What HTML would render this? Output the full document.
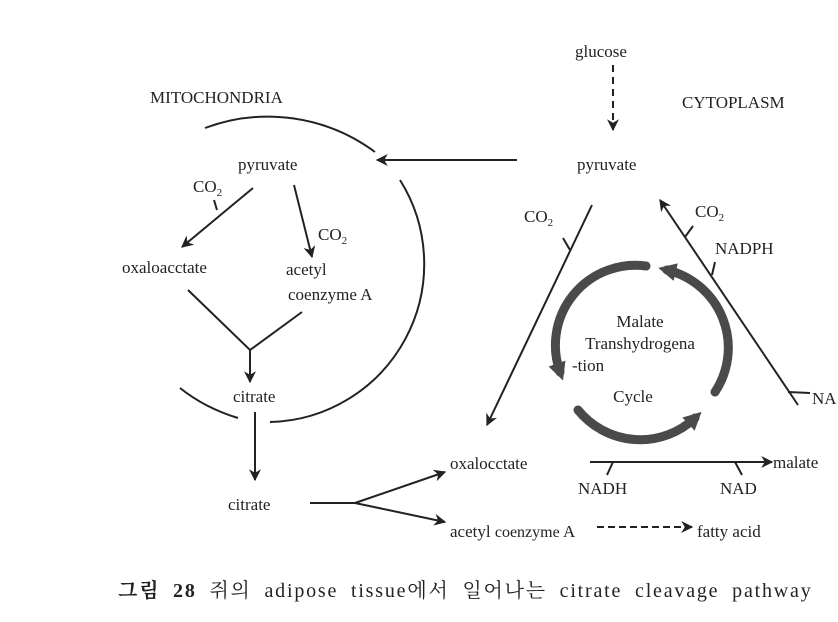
<!DOCTYPE html>
<html><head><meta charset="utf-8"><style>
body{margin:0;background:#fff;}
svg{display:block;font-family:"Liberation Serif","Noto Serif CJK SC",serif;}
text{fill:#222;font-size:17px;}
</style></head><body>
<svg width="838" height="622" viewBox="0 0 838 622" xmlns="http://www.w3.org/2000/svg">
<defs>
<marker id="a" viewBox="0 0 10 10" refX="9" refY="5" markerWidth="12" markerHeight="12" orient="auto-start-reverse" markerUnits="userSpaceOnUse"><path d="M0,0 L10,5 L0,10 L3,5z" fill="#222"/></marker>
<marker id="g" viewBox="0 0 10 10" refX="5" refY="5" markerWidth="18" markerHeight="18" orient="auto" markerUnits="userSpaceOnUse"><path d="M0,0 L10,5 L0,10z" fill="#4a4a4a"/></marker>
</defs>
<g stroke="#222" stroke-width="2" fill="none">
<path d="M205,128 A180,180 0 0 1 375,152"/>
<path d="M400,180 A158,158 0 0 1 270,422"/>
<path d="M180,388 Q205,408 238,418"/>
<path d="M517,160 L377,160" marker-end="url(#a)"/>
<path d="M613,65 L613,130" stroke-dasharray="7,5" marker-end="url(#a)"/>
<path d="M253,188 L182,247" marker-end="url(#a)"/>
<path d="M217,210 L214,200"/>
<path d="M294,185 L312,257" marker-end="url(#a)"/>
<path d="M188,290 L250,350 L302,312"/>
<path d="M250,350 L250,382" marker-end="url(#a)"/>
<path d="M255,412 L255,480" marker-end="url(#a)"/>
<path d="M310,503 L355,503"/>
<path d="M355,503 L445,472" marker-end="url(#a)"/>
<path d="M355,503 L445,522" marker-end="url(#a)"/>
<path d="M597,527 L692,527" stroke-dasharray="7,4" marker-end="url(#a)"/>
<path d="M592,205 L487,425" marker-end="url(#a)"/>
<path d="M570,250 L563,238"/>
<path d="M798,405 L660,200" marker-end="url(#a)"/>
<path d="M685,237 L693,226"/>
<path d="M712,275 L715,262"/>
<path d="M788,392 L810,393"/>
<path d="M590,462 L772,462" marker-end="url(#a)"/>
<path d="M613,462 L607,475"/>
<path d="M735,462 L742,475"/>
</g>
<g stroke="#4a4a4a" stroke-width="9" fill="none" stroke-linecap="round">
<path d="M646,266 A80,80 0 0 0 560,372" marker-end="url(#g)"/>
<path d="M715,392 A80,80 0 0 0 667,270" marker-end="url(#g)"/>
<path d="M578,410 A80,80 0 0 0 695,418" marker-end="url(#g)"/>
</g>
<text x="575" y="57">glucose</text>
<text x="150" y="103">MITOCHONDRIA</text>
<text x="682" y="108">CYTOPLASM</text>
<text x="577" y="170">pyruvate</text>
<text x="238" y="170">pyruvate</text>
<text x="193" y="192">CO<tspan font-size="11" dy="4">2</tspan></text>
<text x="318" y="240">CO<tspan font-size="11" dy="4">2</tspan></text>
<text x="122" y="273">oxaloacctate</text>
<text x="286" y="275">acetyl</text>
<text x="288" y="300">coenzyme A</text>
<text x="233" y="402">citrate</text>
<text x="228" y="510">citrate</text>
<text x="450" y="469">oxalocctate</text>
<text x="450" y="537">acetyl <tspan font-size="16">coenzyme</tspan>  A</text>
<text x="697" y="537">fatty acid</text>
<text x="524" y="222">CO<tspan font-size="11" dy="4">2</tspan></text>
<text x="695" y="217">CO<tspan font-size="11" dy="4">2</tspan></text>
<text x="715" y="254">NADPH</text>
<text x="812" y="404">NA</text>
<text x="773" y="468">malate</text>
<text x="578" y="494">NADH</text>
<text x="720" y="494">NAD</text>
<text x="640" y="327" text-anchor="middle">Malate</text>
<text x="640" y="349" text-anchor="middle">Transhydrogena</text>
<text x="572" y="371">-tion</text>
<text x="633" y="402" text-anchor="middle">Cycle</text>
<text x="118" y="597" style="font-size:20px;letter-spacing:1.8px;word-spacing:6px"><tspan font-weight="bold">그림 28</tspan> 쥐의 adipose tissue에서 일어나는 citrate cleavage pathway</text>
</svg>
</body></html>
